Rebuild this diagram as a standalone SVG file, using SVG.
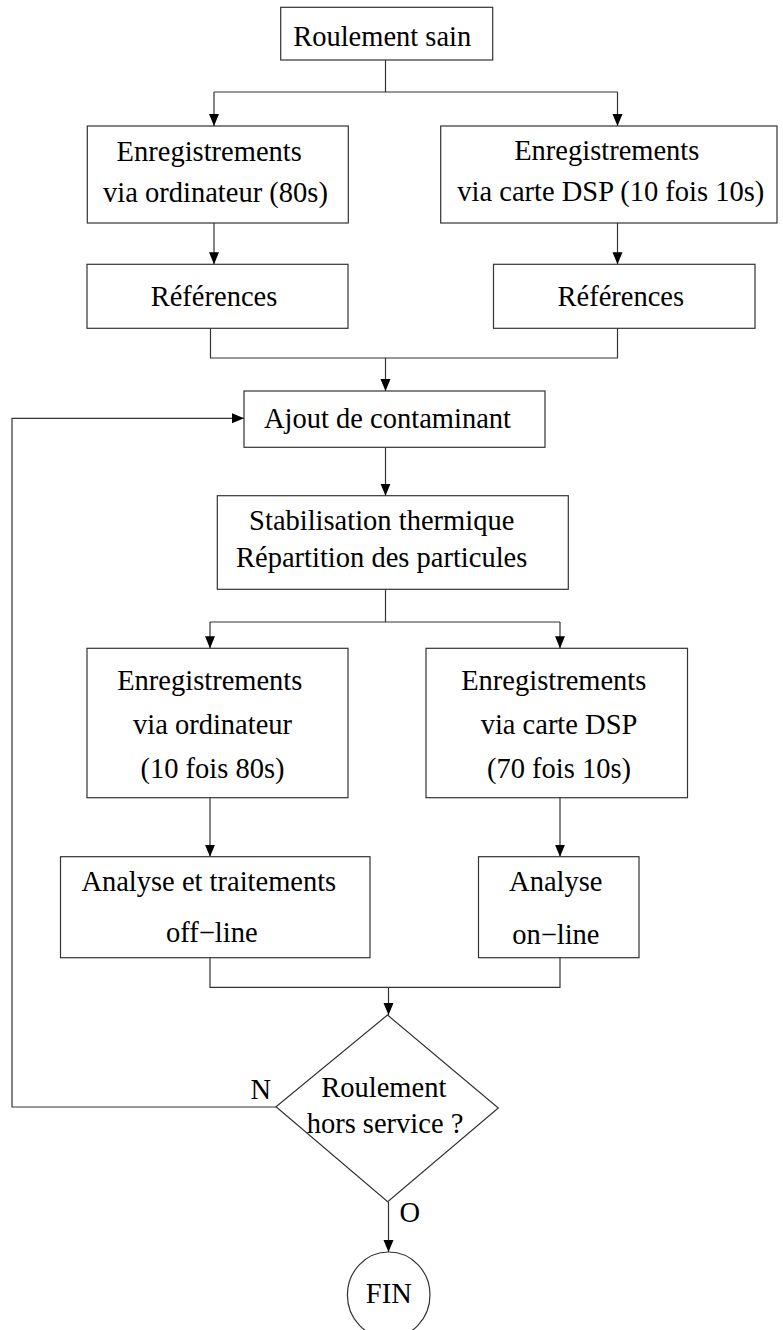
<svg xmlns="http://www.w3.org/2000/svg" width="783" height="1330" viewBox="0 0 783 1330">
<style>
.b{fill:#fff;stroke:#333;stroke-width:1.2}
.t{font-family:"Liberation Serif","Times New Roman",serif;font-size:28.5px;fill:#000;text-anchor:middle}
.c{fill:none;stroke:#333;stroke-width:1.2}
</style>
<defs>
<marker id="ah" markerUnits="userSpaceOnUse" markerWidth="12" markerHeight="11" refX="12" refY="5" orient="auto">
<path d="M0,0 L12,5 L0,10 z" fill="#000"/>
</marker>
</defs>
<rect width="783" height="1330" fill="#fff"/>
<g id="connectors">
<path class="c" d="M385.5,60 V92 M214,92 H617.5"/>
<path class="c" d="M214,92 V126" marker-end="url(#ah)"/>
<path class="c" d="M617.5,92 V126" marker-end="url(#ah)"/>
<path class="c" d="M214,223 V264.3" marker-end="url(#ah)"/>
<path class="c" d="M617.5,223 V264.3" marker-end="url(#ah)"/>
<path class="c" d="M210.5,328.3 V358 H617.5 V328.3"/>
<path class="c" d="M385.5,358 V391" marker-end="url(#ah)"/>
<path class="c" d="M385.5,447.3 V495.7" marker-end="url(#ah)"/>
<path class="c" d="M385.5,589.3 V622 M210,622 H560"/>
<path class="c" d="M210,622 V648.3" marker-end="url(#ah)"/>
<path class="c" d="M560,622 V648.3" marker-end="url(#ah)"/>
<path class="c" d="M210,797.7 V856.7" marker-end="url(#ah)"/>
<path class="c" d="M560,797.7 V856.7" marker-end="url(#ah)"/>
<path class="c" d="M210,957.7 V987.3 H560 V957.7"/>
<path class="c" d="M388.5,987.3 V1015" marker-end="url(#ah)"/>
<path class="c" d="M276,1107 H12 V418.3 H244" marker-end="url(#ah)"/>
<path class="c" d="M388.5,1202 V1252" marker-end="url(#ah)"/>
<text class="t" x="260.8" y="1099">N</text>
<text class="t" x="409.7" y="1221.7">O</text>
</g>
<g id="n-roulement-sain">
<rect class="b" x="280.7" y="7.3" width="212" height="52.7"/>
<text class="t" x="382.2" y="45.7">Roulement sain</text>
</g>
<g id="n-enreg-ord">
<rect class="b" x="87.3" y="126" width="261" height="97"/>
<text class="t" x="209.2" y="160.7">Enregistrements</text>
<text class="t" x="215.5" y="201.7">via ordinateur (80s)</text>
</g>
<g id="n-enreg-dsp">
<rect class="b" x="440.7" y="126" width="336.3" height="97"/>
<text class="t" x="606.8" y="160.3">Enregistrements</text>
<text class="t" x="610.8" y="201.3">via carte DSP (10 fois 10s)</text>
</g>
<g id="n-ref-ord">
<rect class="b" x="87" y="264.3" width="261" height="64"/>
<text class="t" x="214" y="306">Références</text>
</g>
<g id="n-ref-dsp">
<rect class="b" x="493.5" y="264.3" width="261.5" height="64"/>
<text class="t" x="620.8" y="306">Références</text>
</g>
<g id="n-ajout">
<rect class="b" x="244" y="391" width="301" height="56.3"/>
<text class="t" x="387.5" y="428.3">Ajout de contaminant</text>
</g>
<g id="n-stab">
<rect class="b" x="217.3" y="495.7" width="351" height="93.6"/>
<text class="t" x="381.7" y="530">Stabilisation thermique</text>
<text class="t" x="381.7" y="567.3">Répartition des particules</text>
</g>
<g id="n-enreg-ord2">
<rect class="b" x="87" y="648.3" width="261" height="149.4"/>
<text class="t" x="209.8" y="690">Enregistrements</text>
<text class="t" x="212.5" y="734">via ordinateur</text>
<text class="t" x="212.5" y="778">(10 fois 80s)</text>
</g>
<g id="n-enreg-dsp2">
<rect class="b" x="426" y="648.3" width="261.5" height="149.4"/>
<text class="t" x="553.8" y="690">Enregistrements</text>
<text class="t" x="559" y="734">via carte DSP</text>
<text class="t" x="559" y="778">(70 fois 10s)</text>
</g>
<g id="n-analyse-off">
<rect class="b" x="60.5" y="856.7" width="309.5" height="101"/>
<text class="t" x="208.8" y="891">Analyse et traitements</text>
<text class="t" x="211.8" y="941.7">off−line</text>
</g>
<g id="n-analyse-on">
<rect class="b" x="478.5" y="856.7" width="160.5" height="101"/>
<text class="t" x="555.8" y="891">Analyse</text>
<text class="t" x="555.8" y="943.5">on−line</text>
</g>
<g id="n-decision">
<polygon class="b" points="387.5,1015 498.3,1108 387.7,1201.7 276,1106.7"/>
<text class="t" x="383.8" y="1096.7">Roulement</text>
<text class="t" x="385" y="1133.3">hors service ?</text>
</g>
<g id="n-fin">
<ellipse class="b" cx="388.7" cy="1295" rx="41.3" ry="43"/>
<text class="t" x="388.8" y="1302.7">FIN</text>
</g>
</svg>
